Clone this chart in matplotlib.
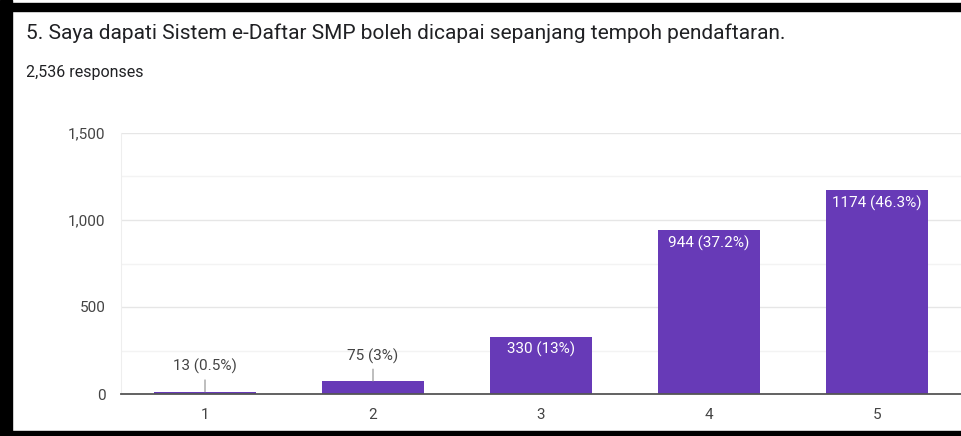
import matplotlib
matplotlib.use("Agg")
import matplotlib.pyplot as plt
from matplotlib.patches import Rectangle

plt.rcParams["font.family"] = ["Roboto", "DejaVu Sans"]

TITLE = "5. Saya dapati Sistem e-Daftar SMP boleh dicapai sepanjang tempoh pendaftaran."
SUBTITLE = "2,536 responses"

categories = ["1", "2", "3", "4", "5"]
counts = [13, 75, 330, 944, 1174]
y_ticks = [0, 500, 1000, 1500]
y_tick_labels = ["0", "500", "1,000", "1,500"]

BAR_COLOR = "#673ab7"
TEXT_DARK = "#202124"
TEXT_GREY = "#444444"

W, H = 961, 436
fig = plt.figure(figsize=(W / 100, H / 100), dpi=100)
fig.patch.set_facecolor("white")

# screenshot frame (black band left, top and bottom)
for x0, y0, w, h in [(0, 0, 12, H), (0, H - 11, W, 8), (0, 0, W, 5)]:
    fig.patches.append(Rectangle((x0 / W, y0 / H), w / W, h / H,
                                 transform=fig.transFigure, color="black", zorder=0))

fig.text(26 / W, 1 - 33 / H, TITLE, fontsize=15, color=TEXT_DARK, va="center", ha="left")
fig.text(26 / W, 1 - 72 / H, SUBTITLE, fontsize=11.5, color=TEXT_DARK, va="center", ha="left")

ax = fig.add_axes([121 / W, 42 / H, 840 / W, 261 / H])
x = list(range(1, len(categories) + 1))
bars = ax.bar(x, counts, width=0.61, color=BAR_COLOR, zorder=3)

ax.set_xlim(0.5, len(categories) + 0.5)
ax.set_ylim(0, 1500)
ax.set_yticks(y_ticks)
ax.set_yticklabels(y_tick_labels)
ax.set_yticks([250, 750, 1250], minor=True)
ax.set_xticks(x)
ax.set_xticklabels(categories)
ax.tick_params(axis="both", which="both", length=0, labelsize=11, colors=TEXT_GREY)
ax.tick_params(axis="y", pad=11)
ax.tick_params(axis="x", pad=10)
ax.grid(axis="y", which="major", color="#e6e6e6", linewidth=1, zorder=0)
ax.grid(axis="y", which="minor", color="#f3f3f3", linewidth=1, zorder=0)

for side in ("top", "right"):
    ax.spines[side].set_visible(False)
ax.spines["left"].set_color("#eeeeee")
ax.spines["bottom"].set_color("#555555")
ax.spines["bottom"].set_linewidth(1.3)
ax.spines["bottom"].set_zorder(4)

total = sum(counts)
for bar, value in zip(bars, counts):
    pct = f"{100 * value / total:.1f}".rstrip("0").rstrip(".")
    label = f"{value} ({pct}%)"
    cx = bar.get_x() + bar.get_width() / 2
    if value < 200:
        ax.annotate(label, xy=(cx, value), xytext=(0, 18), textcoords="offset points",
                    ha="center", va="center", fontsize=11, color=TEXT_GREY,
                    arrowprops=dict(arrowstyle="-", color="#999999", lw=0.9,
                                    shrinkA=2, shrinkB=0), zorder=5)
    else:
        ax.annotate(label, xy=(cx, value), xytext=(0, -9.5), textcoords="offset points",
                    ha="center", va="center", fontsize=11, color="white", zorder=5)

fig.savefig("out.png", dpi=100, facecolor="white")
